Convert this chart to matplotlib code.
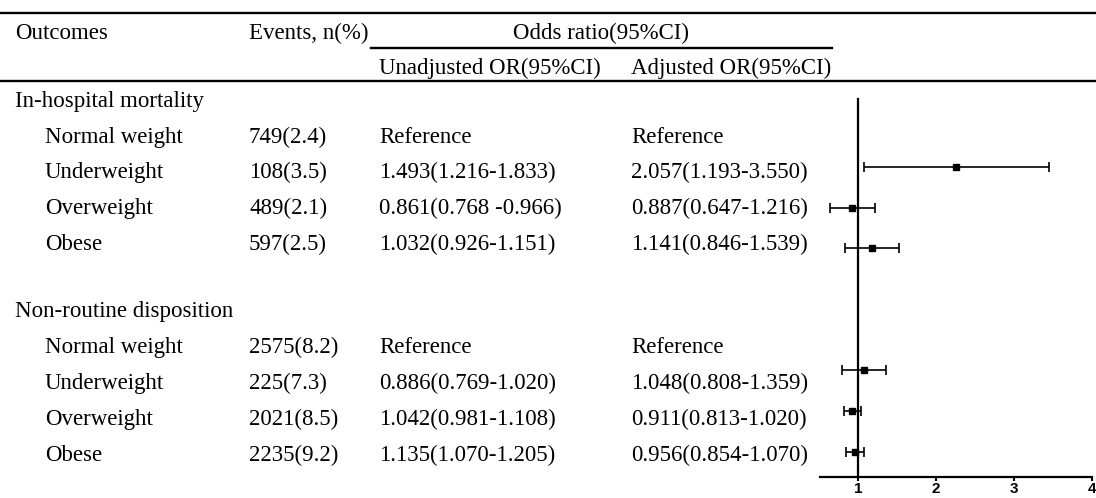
import numpy as np
import matplotlib.pyplot as plt

# table content
row_labels = ["In-hospital mortality", "Normal weight", "Underweight", "Overweight", "Obese",
              "Non-routine disposition", "Normal weight", "Underweight", "Overweight", "Obese"]
is_group = [True, False, False, False, False, True, False, False, False, False]
events = ["", "749(2.4)", "108(3.5)", "489(2.1)", "597(2.5)",
          "", "2575(8.2)", "225(7.3)", "2021(8.5)", "2235(9.2)"]
unadj = ["", "Reference", "1.493(1.216-1.833)", "0.861(0.768 -0.966)", "1.032(0.926-1.151)",
         "", "Reference", "0.886(0.769-1.020)", "1.042(0.981-1.108)", "1.135(1.070-1.205)"]
adj = ["", "Reference", "2.057(1.193-3.550)", "0.887(0.647-1.216)", "1.141(0.846-1.539)",
       "", "Reference", "1.048(0.808-1.359)", "0.911(0.813-1.020)", "0.956(0.854-1.070)"]

# forest plot values (as drawn in the figure)
forest_slot = np.array([0, 1, 2, 5, 6, 7])
forest_or = np.array([2.26, 0.92, 1.18, 1.08, 0.92, 0.96])
forest_lo = np.array([1.08, 0.64, 0.83, 0.79, 0.82, 0.85])
forest_hi = np.array([3.45, 1.21, 1.53, 1.36, 1.03, 1.07])
xticks = [1, 2, 3, 4]

W, H = 1096, 498
fig = plt.figure(figsize=(W / 100, H / 100), dpi=100)

ax = fig.add_axes([0, 0, 1, 1])
ax.set_xlim(0, W)
ax.set_ylim(H, 0)
ax.axis('off')

font = dict(family='Liberation Serif', size=16.5, color='black', va='center')
row_y = [101, 137, 172, 208, 244, 311, 347, 383, 419, 455]
col_x = [15, 45, 249, 379, 631]

ax.plot([0, W], [13, 13], color='black', lw=1.7)
ax.plot([0, W], [81, 81], color='black', lw=1.7)
ax.plot([371, 832], [48, 48], color='black', lw=1.7)

ax.text(col_x[0], 33, "Outcomes", **font)
ax.text(col_x[2], 33, "Events, n(%)", **font)
ax.text(601, 33, "Odds ratio(95%CI)", ha='center', **font)
ax.text(col_x[3], 68, "Unadjusted OR(95%CI)", **font)
ax.text(col_x[4], 68, "Adjusted OR(95%CI)", **font)

for i, lab in enumerate(row_labels):
    y = row_y[i]
    ax.text(col_x[0] if is_group[i] else col_x[1], y, lab, **font)
    ax.text(col_x[2], y, events[i], **font)
    ax.text(col_x[3], y, unadj[i], **font)
    ax.text(col_x[4], y, adj[i], **font)

# forest plot
bottom = 477
ax2 = fig.add_axes([820 / W, (H - bottom) / H, 272 / W, (bottom - 99) / H])
ax2.patch.set_visible(False)
ax2.errorbar(forest_or, forest_slot, xerr=[forest_or - forest_lo, forest_hi - forest_or],
             fmt='s', color='black', ms=5, capsize=3.5, elinewidth=1.2, capthick=1.2)
ax2.set_xlim(0.51, 4.0)
ax2.set_ylim(7.62, -1.67)
ax2.spines['top'].set_visible(False)
ax2.spines['right'].set_visible(False)
ax2.spines['left'].set_position(('data', 1))
ax2.spines['left'].set_linewidth(1.6)
ax2.spines['bottom'].set_linewidth(1.6)
ax2.set_yticks([])
ax2.set_xticks(xticks)
ax2.set_xticklabels([str(t) for t in xticks], fontweight='bold', fontsize=11, family='Liberation Sans')
ax2.tick_params(axis='x', direction='out', length=3, width=1.5, pad=0.5)

fig.savefig('out.png', dpi=100)
